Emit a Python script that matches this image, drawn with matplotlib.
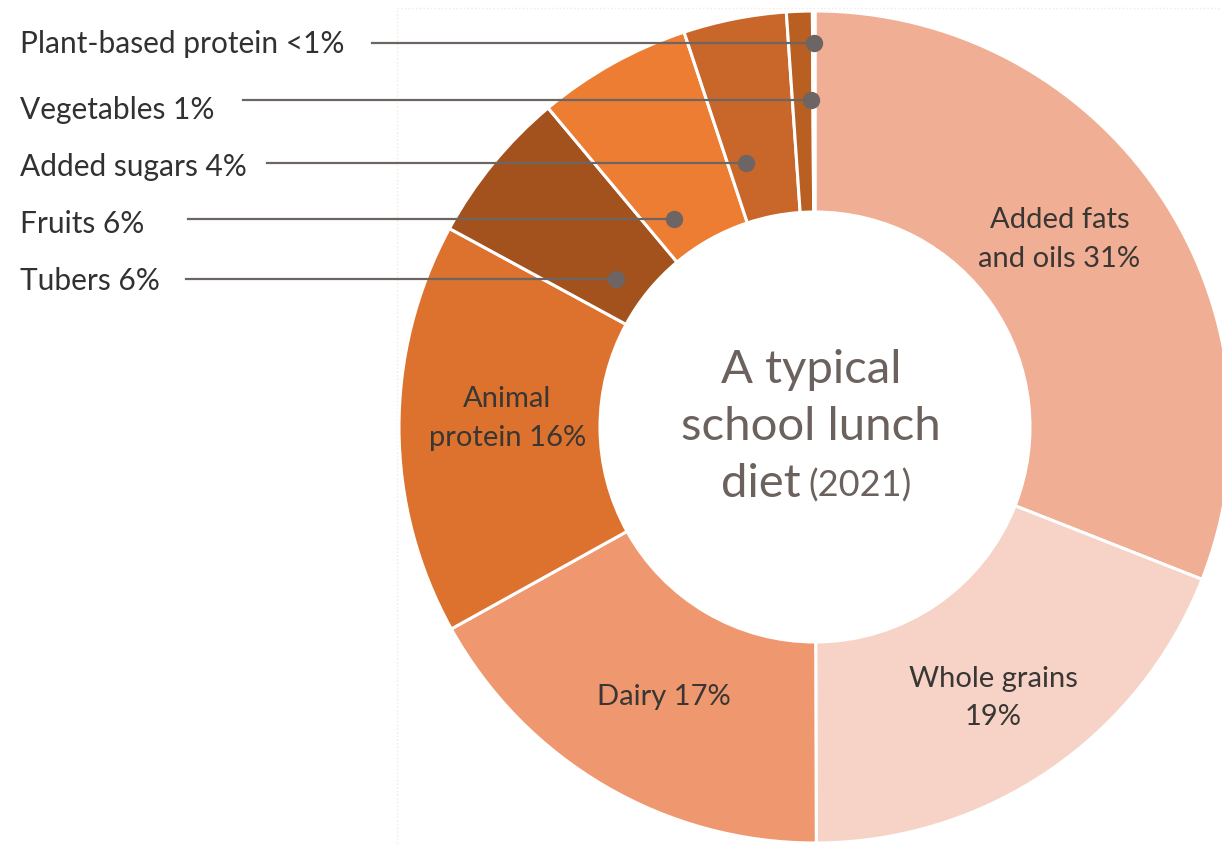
import numpy as np
import matplotlib.pyplot as plt
from matplotlib.patches import Rectangle

plt.rcParams['font.family'] = ['Lato', 'DejaVu Sans']

# Data: share of a typical school lunch diet (2021), clockwise from the top
categories = ['Added fats and oils', 'Whole grains', 'Dairy', 'Animal protein',
              'Tubers', 'Fruits', 'Added sugars', 'Vegetables', 'Plant-based protein']
shares = [31, 19, 17, 16, 6, 6, 4, 1, 0.1]
share_text = ['31%', '19%', '17%', '16%', '6%', '6%', '4%', '1%', '<1%']
colors = ['#F0AE94', '#F6D3C6', '#EF9870', '#DC722E', '#A3521E',
          '#EC7D32', '#C9672A', '#B95F22', '#A3521E']

# labels written inside the ring (first four slices)
inside_labels = ['Added fats\nand oils 31%', 'Whole grains\n19%', 'Dairy 17%', 'Animal\nprotein 16%']
inside_r = [0.74, 0.78, 0.745, 0.74]
inside_shift = [-3.2, 1.0, -1.1, 1.9]  # degrees off the slice middle

# outside labels with leader lines (in top-down pixel rows)
outside_idx = [8, 7, 6, 5, 4]
label_base_y = [53, 119, 176, 233, 290]
line_y = [43, 100, 163, 219, 279]
line_start_x = [372, 243, 267, 188, 186]
dot_frac = [0.5, 0.9, 0.25, 0.27, 0.38]  # where on the slice the dot sits

W, H = 1222, 844
cx, cy_top, R, R_in = 815, 427, 416, 215
cy = H - cy_top

fig = plt.figure(figsize=(W / 100, H / 100), dpi=100)
ax = fig.add_axes([0, 0, 1, 1])

# faint background panel
ax.add_patch(Rectangle((397, -20), 1000, H - 8 + 20, fill=False,
                       edgecolor='#F4E8DF', linestyle=':', linewidth=1, zorder=0))

wedges, _ = ax.pie(shares, colors=colors, startangle=90, counterclock=False,
                   center=(cx, cy), radius=R,
                   wedgeprops=dict(width=R - R_in, edgecolor='white', linewidth=2.2))
ax.set_xlim(0, W)
ax.set_ylim(0, H)
ax.set_aspect('equal')
ax.axis('off')

total = float(sum(shares))
bounds = np.concatenate([[0], np.cumsum(shares)]) / total

def angle_pos(deg, r):
    th = np.deg2rad(deg)
    return cx + r * np.sin(th), cy + r * np.cos(th)

# inside labels
for i, lab in enumerate(inside_labels):
    mid = 360 * (bounds[i] + bounds[i + 1]) / 2 + inside_shift[i]
    x, y = angle_pos(mid, inside_r[i] * R)
    ax.text(x, y, lab, ha='center', va='center', fontsize=21, color='#3A3633',
            linespacing=1.6)

# outside labels with leaders
line_col = '#6D6563'
for k, i in enumerate(outside_idx):
    f = bounds[i] + dot_frac[k] * (bounds[i + 1] - bounds[i])
    th = np.deg2rad(360 * f)
    ly = H - line_y[k]
    dx = (ly - cy) * np.tan(th)
    ax.plot([line_start_x[k], cx + dx], [ly, ly], color=line_col, lw=1.6, zorder=4)
    ax.plot(cx + dx, ly, 'o', color=line_col, markersize=11.5, zorder=5)
    ax.text(20, H - label_base_y[k], f'{categories[i]} {share_text[i]}', ha='left',
            va='baseline', fontsize=21.5, color='#333130')

# centre title
title_col = '#6B625E'
ax.text(cx - 4, H - 383, 'A typical', ha='center', va='baseline', fontsize=34, color=title_col)
ax.text(cx - 4, H - 440, 'school lunch', ha='center', va='baseline', fontsize=34, color=title_col)
ax.text(cx - 14, H - 497, 'diet', ha='right', va='baseline', fontsize=34, color=title_col)
ax.text(cx - 7, H - 497, '(2021)', ha='left', va='baseline', fontsize=26, color=title_col)

fig.savefig('out.png', dpi=100)
